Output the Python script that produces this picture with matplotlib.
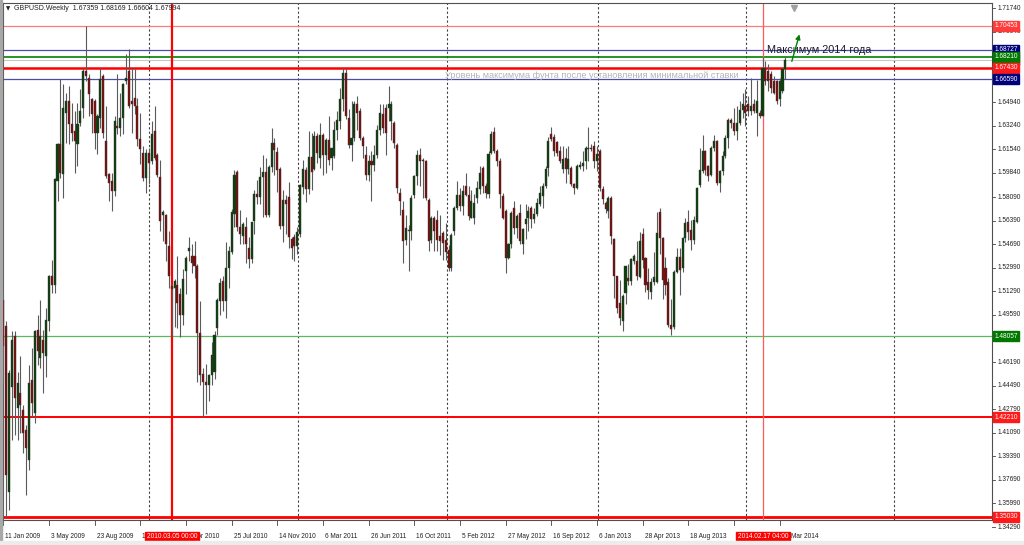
import matplotlib
matplotlib.use("Agg")
import matplotlib.pyplot as plt
from matplotlib.patches import Rectangle
import numpy as np

plt.rcParams['font.family'] = ['Liberation Sans', 'DejaVu Sans']

# weekly GBPUSD candles (bar 0 = week of 11 Jan 2009)
opens = [
    1.5070, 1.4877, 1.3684, 1.4443, 1.4805, 1.4286, 1.4395, 1.4275, 1.4130, 1.3913,
    1.4491, 1.4250, 1.4853, 1.4648, 1.4780, 1.4660, 1.4913, 1.5238, 1.5178, 1.5925,
    1.6190, 1.5973, 1.6419, 1.6503, 1.6335, 1.6287, 1.6190, 1.6347, 1.6455, 1.6720,
    1.6672, 1.6516, 1.6503, 1.6275, 1.6383, 1.6684, 1.6214, 1.5973, 1.5925, 1.5853,
    1.6323, 1.6311, 1.6383, 1.6648, 1.6720, 1.6503, 1.6528, 1.6467, 1.6226, 1.6130,
    1.5949, 1.6130, 1.6070, 1.6283, 1.6113, 1.5956, 1.5677, 1.5677, 1.5458, 1.5167,
    1.5155, 1.5179, 1.5107, 1.4961, 1.5276, 1.5422, 1.5386, 1.5386, 1.5313, 1.4828,
    1.4536, 1.4476, 1.4452, 1.4524, 1.4549, 1.4864, 1.5058, 1.5204, 1.5058, 1.5301,
    1.5410, 1.5689, 1.5992, 1.5592, 1.5531, 1.5592, 1.5446, 1.5361, 1.5640, 1.5834,
    1.5810, 1.5956, 1.5992, 1.5677, 1.6028, 1.6198, 1.6138, 1.6016, 1.5604, 1.5786,
    1.5810, 1.5507, 1.5519, 1.5458, 1.5543, 1.5883, 1.6004, 1.5871, 1.6101, 1.6016,
    1.6247, 1.6092, 1.6259, 1.6116, 1.6225, 1.6092, 1.6104, 1.6297, 1.6360, 1.6514,
    1.6707, 1.6382, 1.6189, 1.6237, 1.6478, 1.6430, 1.6237, 1.6116, 1.5972, 1.6068,
    1.6044, 1.6116, 1.6297, 1.6406, 1.6454, 1.6454, 1.6357, 1.6345, 1.6189, 1.5839,
    1.5719, 1.5502, 1.5574, 1.5562, 1.5827, 1.5960, 1.6116, 1.6080, 1.6068, 1.5791,
    1.5502, 1.5659, 1.5646, 1.5526, 1.5550, 1.5502, 1.5430, 1.5297, 1.5562, 1.5731,
    1.5827, 1.5743, 1.5887, 1.5827, 1.5659, 1.5661, 1.5806, 1.5866, 1.6023, 1.5890,
    1.5830, 1.6131, 1.6276, 1.6143, 1.6071, 1.5818, 1.5709, 1.5372, 1.5469, 1.5734,
    1.5589, 1.5697, 1.5469, 1.5613, 1.5661, 1.5734, 1.5649, 1.5685, 1.5758, 1.5818,
    1.5890, 1.6023, 1.6264, 1.6240, 1.6204, 1.6143, 1.6011, 1.6095, 1.6011, 1.6023,
    1.5902, 1.5878, 1.6028, 1.6035, 1.6071, 1.6167, 1.6167, 1.6179, 1.6071, 1.6143,
    1.5866, 1.5770, 1.5709, 1.5806, 1.5505, 1.5239, 1.5047, 1.4914, 1.5119, 1.5227,
    1.5203, 1.5348, 1.5348, 1.5235, 1.5540, 1.5368, 1.5199, 1.5126, 1.5199, 1.5199,
    1.5705, 1.5512, 1.5300, 1.5199, 1.4885, 1.4873, 1.5271, 1.5381, 1.5295, 1.5512,
    1.5633, 1.5573, 1.5500, 1.5633, 1.5898, 1.5995, 1.6140, 1.6031, 1.5971, 1.6164,
    1.6212, 1.5911, 1.5995, 1.6104, 1.6236, 1.6369, 1.6345, 1.6285, 1.6345, 1.6441,
    1.6466, 1.6478, 1.6429, 1.6478, 1.6417, 1.6417, 1.6393, 1.6743, 1.6719, 1.6695,
    1.6646, 1.6646, 1.6514, 1.6574, 1.67359,
]
highs = [
    1.5118, 1.4913, 1.4560, 1.4841, 1.4841, 1.4551, 1.4660, 1.4311, 1.4166, 1.4600,
    1.4720, 1.4853, 1.4961, 1.5070, 1.4853, 1.5009, 1.5250, 1.5359, 1.5949, 1.6202,
    1.6665, 1.6624, 1.6564, 1.6612, 1.6490, 1.6431, 1.6490, 1.6588, 1.6744, 1.7045,
    1.6696, 1.6528, 1.6516, 1.6407, 1.6744, 1.6696, 1.6467, 1.5985, 1.5985, 1.6395,
    1.6696, 1.6564, 1.6636, 1.6841, 1.6877, 1.6744, 1.6732, 1.6528, 1.6419, 1.6178,
    1.6154, 1.6166, 1.6359, 1.6465, 1.6125, 1.6077, 1.5713, 1.5689, 1.5568, 1.5180,
    1.5216, 1.5386, 1.5155, 1.5289, 1.5386, 1.5519, 1.5471, 1.5495, 1.5325, 1.5058,
    1.4573, 1.4609, 1.4536, 1.4767, 1.4840, 1.5082, 1.5228, 1.5240, 1.5483, 1.5458,
    1.5725, 1.6004, 1.6004, 1.5713, 1.5628, 1.5665, 1.5519, 1.5628, 1.5859, 1.5931,
    1.6028, 1.6113, 1.6089, 1.6041, 1.6307, 1.6235, 1.6174, 1.6028, 1.5859, 1.5822,
    1.5920, 1.5519, 1.5543, 1.5592, 1.5907, 1.6077, 1.6028, 1.6283, 1.6271, 1.6283,
    1.6271, 1.6345, 1.6273, 1.6237, 1.6394, 1.6165, 1.6358, 1.6430, 1.6598, 1.6743,
    1.6743, 1.6442, 1.6502, 1.6502, 1.6538, 1.6454, 1.6249, 1.6177, 1.6116, 1.6140,
    1.6189, 1.6333, 1.6478, 1.6478, 1.6478, 1.6610, 1.6502, 1.6357, 1.6201, 1.5875,
    1.5779, 1.5683, 1.5610, 1.5827, 1.5972, 1.6153, 1.6165, 1.6092, 1.6080, 1.5803,
    1.5671, 1.5671, 1.5719, 1.5683, 1.5562, 1.5622, 1.5466, 1.5550, 1.5743, 1.5924,
    1.5875, 1.5900, 1.5984, 1.5887, 1.5863, 1.5830, 1.5926, 1.6035, 1.6035, 1.5914,
    1.6143, 1.6288, 1.6312, 1.6155, 1.6095, 1.5842, 1.5721, 1.5481, 1.5709, 1.5782,
    1.5685, 1.5758, 1.5589, 1.5758, 1.5746, 1.5746, 1.5734, 1.5806, 1.5890, 1.5914,
    1.6035, 1.6240, 1.6312, 1.6264, 1.6216, 1.6179, 1.6179, 1.6167, 1.6179, 1.6035,
    1.5914, 1.6047, 1.6071, 1.6143, 1.6179, 1.6312, 1.6191, 1.6216, 1.6179, 1.6155,
    1.5890, 1.5782, 1.5818, 1.5818, 1.5517, 1.5239, 1.5215, 1.5107, 1.5312, 1.5324,
    1.5372, 1.5396, 1.5493, 1.5561, 1.5585, 1.5380, 1.5295, 1.5223, 1.5416, 1.5705,
    1.5730, 1.5524, 1.5380, 1.5223, 1.5078, 1.5283, 1.5440, 1.5440, 1.5524, 1.5657,
    1.5718, 1.5645, 1.5670, 1.5886, 1.6164, 1.6260, 1.6152, 1.6043, 1.6176, 1.6260,
    1.6224, 1.6007, 1.6140, 1.6260, 1.6381, 1.6381, 1.6453, 1.6465, 1.6502, 1.6562,
    1.6586, 1.6538, 1.6671, 1.6514, 1.6658, 1.6441, 1.6822, 1.6790, 1.6767, 1.6719,
    1.6683, 1.6658, 1.6671, 1.6743, 1.68169,
]
lows = [
    1.4467, 1.3503, 1.3550, 1.4057, 1.4094, 1.4057, 1.4106, 1.3961, 1.3660, 1.3841,
    1.4226, 1.4178, 1.4600, 1.4576, 1.4395, 1.4515, 1.4841, 1.5118, 1.5118, 1.5780,
    1.5950, 1.5805, 1.6202, 1.6190, 1.6214, 1.5985, 1.6034, 1.6323, 1.6383, 1.6648,
    1.6395, 1.6275, 1.6154, 1.6118, 1.6311, 1.6238, 1.5949, 1.5780, 1.5708, 1.5820,
    1.6263, 1.6250, 1.6263, 1.6624, 1.6455, 1.6275, 1.6407, 1.6178, 1.6046, 1.5925,
    1.5841, 1.5901, 1.6046, 1.6077, 1.5956, 1.5568, 1.5495, 1.5349, 1.5155, 1.4806,
    1.4876, 1.4864, 1.4803, 1.4888, 1.5107, 1.5349, 1.5264, 1.5228, 1.4476, 1.4452,
    1.4221, 1.4246, 1.4342, 1.4452, 1.4500, 1.4815, 1.4961, 1.4985, 1.4937, 1.5155,
    1.5398, 1.5592, 1.5568, 1.5471, 1.5471, 1.5337, 1.5301, 1.5337, 1.5543, 1.5762,
    1.5762, 1.5665, 1.5665, 1.5665, 1.5992, 1.5968, 1.5847, 1.5580, 1.5483, 1.5543,
    1.5446, 1.5361, 1.5349, 1.5398, 1.5519, 1.5834, 1.5774, 1.5834, 1.5859, 1.6004,
    1.6053, 1.6020, 1.5972, 1.5984, 1.6044, 1.6008, 1.6092, 1.6225, 1.6300, 1.6430,
    1.6370, 1.6165, 1.6068, 1.6213, 1.6297, 1.6225, 1.6092, 1.5936, 1.5924, 1.5779,
    1.5996, 1.6092, 1.6261, 1.6273, 1.6116, 1.6357, 1.6225, 1.6165, 1.5839, 1.5683,
    1.5333, 1.5466, 1.5273, 1.5502, 1.5803, 1.5900, 1.5888, 1.5803, 1.5791, 1.5418,
    1.5478, 1.5418, 1.5418, 1.5393, 1.5357, 1.5357, 1.5273, 1.5273, 1.5538, 1.5719,
    1.5707, 1.5683, 1.5815, 1.5646, 1.5659, 1.5613, 1.5770, 1.5830, 1.5842, 1.5806,
    1.5806, 1.6119, 1.6131, 1.6035, 1.5734, 1.5649, 1.5264, 1.5360, 1.5440, 1.5541,
    1.5517, 1.5469, 1.5396, 1.5505, 1.5565, 1.5589, 1.5625, 1.5673, 1.5746, 1.5734,
    1.5878, 1.5963, 1.6216, 1.6107, 1.6107, 1.6059, 1.5987, 1.5914, 1.5975, 1.5890,
    1.5830, 1.5866, 1.6011, 1.5999, 1.6011, 1.6071, 1.6143, 1.6023, 1.5999, 1.5854,
    1.5758, 1.5697, 1.5661, 1.5469, 1.5083, 1.4975, 1.4890, 1.4842, 1.5035, 1.5179,
    1.5179, 1.5324, 1.5215, 1.5223, 1.5295, 1.5126, 1.5078, 1.5078, 1.5175, 1.5187,
    1.5400, 1.5078, 1.5100, 1.4873, 1.4813, 1.4861, 1.5259, 1.5102, 1.5271, 1.5488,
    1.5500, 1.5428, 1.5470, 1.5621, 1.5886, 1.5983, 1.5971, 1.5923, 1.5959, 1.6140,
    1.5898, 1.5850, 1.5971, 1.6092, 1.6164, 1.6309, 1.6260, 1.6224, 1.6333, 1.6381,
    1.6321, 1.6393, 1.6405, 1.6417, 1.6248, 1.6381, 1.6393, 1.6622, 1.6574, 1.6562,
    1.6550, 1.6478, 1.6466, 1.6562, 1.66604,
]
closes = [
    1.4732, 1.3804, 1.4539, 1.4780, 1.4359, 1.4467, 1.4311, 1.4106, 1.3997, 1.4467,
    1.4322, 1.4841, 1.4696, 1.4805, 1.4684, 1.4925, 1.5238, 1.5178, 1.5937, 1.6190,
    1.5985, 1.6455, 1.6503, 1.6335, 1.6275, 1.6214, 1.6335, 1.6431, 1.6720, 1.6684,
    1.6552, 1.6407, 1.6275, 1.6395, 1.6660, 1.6275, 1.5961, 1.5913, 1.5853, 1.6359,
    1.6311, 1.6383, 1.6624, 1.6672, 1.6467, 1.6479, 1.6467, 1.6226, 1.6154, 1.5949,
    1.6130, 1.6058, 1.6263, 1.6089, 1.5968, 1.5640, 1.5701, 1.5471, 1.5240, 1.5143,
    1.5204, 1.5046, 1.4961, 1.5216, 1.5373, 1.5446, 1.5337, 1.5313, 1.4828, 1.4524,
    1.4476, 1.4452, 1.4524, 1.4670, 1.4815, 1.5070, 1.5191, 1.5058, 1.5301, 1.5422,
    1.5701, 1.5968, 1.5592, 1.5543, 1.5616, 1.5471, 1.5361, 1.5628, 1.5834, 1.5810,
    1.5956, 1.5992, 1.5677, 1.6028, 1.6198, 1.6150, 1.6004, 1.5604, 1.5786, 1.5762,
    1.5519, 1.5446, 1.5458, 1.5555, 1.5895, 1.6016, 1.5871, 1.6101, 1.5992, 1.6247,
    1.6125, 1.6259, 1.6116, 1.6225, 1.6080, 1.6165, 1.6297, 1.6369, 1.6514, 1.6707,
    1.6394, 1.6189, 1.6237, 1.6478, 1.6418, 1.6237, 1.6177, 1.5972, 1.6068, 1.6044,
    1.6116, 1.6297, 1.6418, 1.6309, 1.6273, 1.6478, 1.6478, 1.6201, 1.5875, 1.5779,
    1.5490, 1.5586, 1.5562, 1.5803, 1.5960, 1.6116, 1.6068, 1.6068, 1.5803, 1.5490,
    1.5659, 1.5562, 1.5502, 1.5490, 1.5478, 1.5417, 1.5297, 1.5538, 1.5731, 1.5827,
    1.5743, 1.5851, 1.5827, 1.5671, 1.5780, 1.5770, 1.5878, 1.5987, 1.5890, 1.5842,
    1.6119, 1.6264, 1.6143, 1.6071, 1.5830, 1.5661, 1.5372, 1.5469, 1.5697, 1.5589,
    1.5673, 1.5493, 1.5577, 1.5649, 1.5709, 1.5649, 1.5685, 1.5770, 1.5842, 1.5890,
    1.6011, 1.6216, 1.6228, 1.6143, 1.6131, 1.6071, 1.6083, 1.6011, 1.6083, 1.5902,
    1.5878, 1.6035, 1.6042, 1.6059, 1.6167, 1.6155, 1.6155, 1.6071, 1.6119, 1.5878,
    1.5794, 1.5721, 1.5806, 1.5529, 1.5239, 1.5011, 1.4938, 1.5095, 1.5312, 1.5203,
    1.5360, 1.5384, 1.5239, 1.5490, 1.5356, 1.5175, 1.5138, 1.5199, 1.5235, 1.5549,
    1.5512, 1.5211, 1.5175, 1.4885, 1.4861, 1.5271, 1.5381, 1.5283, 1.5512, 1.5621,
    1.5561, 1.5500, 1.5645, 1.5874, 1.6007, 1.6140, 1.6007, 1.5959, 1.6164, 1.6212,
    1.5911, 1.5995, 1.6104, 1.6236, 1.6369, 1.6345, 1.6285, 1.6345, 1.6441, 1.6478,
    1.6417, 1.6429, 1.6466, 1.6429, 1.6502, 1.6393, 1.6743, 1.6646, 1.6646, 1.6598,
    1.6562, 1.6502, 1.6646, 1.6736, 1.67994,
]

# horizontal levels drawn on the chart
levels = [1.70453, 1.68727, 1.68210, 1.67994, 1.67430, 1.66590, 1.48057, 1.42210, 1.35030]
level_colors = ['#ff7a7a', '#4b4ba8', '#008000', '#c8c8c8', '#ff0000', '#4b4ba8', '#5cb85c', '#ff0000', '#ff0000']
level_widths = [0.9, 0.9, 1.2, 0.8, 1.8, 0.9, 0.9, 1.4, 2.0]
# price tags on the right scale
tag_values = [1.67994, 1.70453, 1.68727, 1.68210, 1.67430, 1.66590, 1.48057, 1.42210, 1.35030]
tag_colors = ['#000000', '#ff3b3b', '#00007a', '#007800', '#ff1a1a', '#00007a', '#007800', '#ff1a1a', '#ff1a1a']

# scale values that are not hidden under the tags
price_ticks = [1.71740, 1.70040, 1.64940, 1.63240, 1.61540, 1.59840, 1.58090,
               1.56390, 1.54690, 1.52990, 1.51290, 1.49590, 1.46190, 1.44490, 1.42790,
               1.41090, 1.39390, 1.37690, 1.35990, 1.34290]
date_ticks = [0, 16, 32, 48, 64, 80, 96, 112, 128, 144, 160, 176, 192, 208, 224, 240, 256, 272]
date_labels = ['11 Jan 2009', '3 May 2009', '23 Aug 2009', '13 Dec 2009', '4 Apr 2010', '25 Jul 2010',
               '14 Nov 2010', '6 Mar 2011', '26 Jun 2011', '16 Oct 2011', '5 Feb 2012', '27 May 2012',
               '16 Sep 2012', '6 Jan 2013', '28 Apr 2013', '18 Aug 2013', '8 Dec 2013', '30 Mar 2014']
marked_bars = [59.15, 266.2]
marked_labels = ['2010.03.05 00:00', '2014.02.17 04:00']

fig = plt.figure(figsize=(10.24, 5.45), dpi=100)
fig.patch.set_facecolor('white')
ax = fig.add_axes([3 / 1024, 25 / 545, 989 / 1024, 517 / 545])
ax.set_xlim(-0.1, 346.4)
ax.set_ylim(1.34799, 1.72101)
ax.set_xticks([])
ax.set_yticks([])
for s in ax.spines.values():
    s.set_color('#505050')
    s.set_linewidth(0.8)

# window edge strips
fig.patches.append(Rectangle((0, 0), 2 / 1024, 1, transform=fig.transFigure, color='#a8a8a8', zorder=0))
fig.patches.append(Rectangle((0, 0), 1, 4 / 545, transform=fig.transFigure, color='#ececec', zorder=0))

# dashed grid
for gx in [51.05, 103.1, 155.4, 208.3, 260.1, 312.2]:
    ax.axvline(gx, color='#404040', lw=0.8, ls=(0, (2, 2)), zorder=1)

for lv, lc, lw in zip(levels, level_colors, level_widths):
    ax.axhline(lv, color=lc, lw=lw, zorder=2)

ax.axvline(marked_bars[0], color='#ff0000', lw=1.6, zorder=2)
ax.axvline(marked_bars[1], color='#ff5a5a', lw=0.9, zorder=2)

# candles
x = np.arange(len(closes))
o = np.array(opens)
h = np.array(highs)
l = np.array(lows)
c = np.array(closes)
ax.vlines(x, l, h, color='#5a5a5a', lw=0.8, zorder=3)
bull = c >= o
bottom = np.minimum(o, c)
height = np.maximum(np.abs(c - o), 0.0004)
ax.bar(x[bull], height[bull], bottom=bottom[bull], width=0.72, color='#0b3f0b',
       edgecolor='#3a3a3a', linewidth=0.3, zorder=4)
ax.bar(x[~bull], height[~bull], bottom=bottom[~bull], width=0.72, color='#7d0a0a',
       edgecolor='#3a3a3a', linewidth=0.3, zorder=4)

# annotations
ax.text(154.8, 1.66906, 'Уровень максимума фунта после установления минимальной ставки',
        fontsize=6.6, color='#b4b4b4', va='center', ha='left', zorder=5)
ax.text(267.6, 1.6871, 'Максимум 2014 года', fontsize=7.8, color='#1c1c2c',
        va='center', ha='left', zorder=6)
ax.annotate('', xy=(279.2, 1.7003), xytext=(276.0, 1.6770),
            arrowprops=dict(arrowstyle='-|>', color='#008000', lw=1.0, mutation_scale=7), zorder=6)
ax.plot([277.2], [1.7172], marker='v', color='#a0a0a0', markersize=4, clip_on=False, zorder=6)

# header
ax.text(0.0035, 0.9895, '\u25bc', transform=ax.transAxes, fontsize=4, color='#202020',
        va='center', ha='left', family=['DejaVu Sans'])
ax.text(0.0111, 0.9895, 'GBPUSD.Weekly  1.67359 1.68169 1.66604 1.67994', transform=ax.transAxes,
        fontsize=5, color='#202020', va='center', ha='left')

# price scale
ytr = ax.get_yaxis_transform()
for pt in price_ticks:
    ax.plot([1.0, 1.0035], [pt, pt], color='#404040', lw=0.6, transform=ytr, clip_on=False)
    ax.text(1.0052, pt, f'{pt:.5f}', transform=ytr, fontsize=4.7, color='#202020',
            va='center', ha='left', clip_on=False)
for tv, tc in zip(tag_values, tag_colors):
    ax.text(1.0025, tv, f'{tv:.5f}', transform=ytr, fontsize=4.7, color='white',
            va='center', ha='left', clip_on=False, zorder=10,
            bbox=dict(boxstyle='square,pad=0.22', fc=tc, ec=tc))

# time scale
xtr = ax.get_xaxis_transform()
for dt, dl in zip(date_ticks, date_labels):
    ax.plot([dt, dt], [0, -0.009], color='#404040', lw=0.6, transform=xtr, clip_on=False)
    ax.text(dt + 0.7, -0.0325, dl, transform=xtr, fontsize=4.7, color='#202020',
            va='center', ha='left', clip_on=False)
for mb, ml in zip(marked_bars, marked_labels):
    ax.text(mb, -0.0325, ml, transform=xtr, fontsize=4.7, color='white', va='center', ha='center',
            clip_on=False, zorder=10, bbox=dict(boxstyle='square,pad=0.25', fc='#ff0000', ec='#ff0000'))

fig.savefig('out.png', dpi=100)
